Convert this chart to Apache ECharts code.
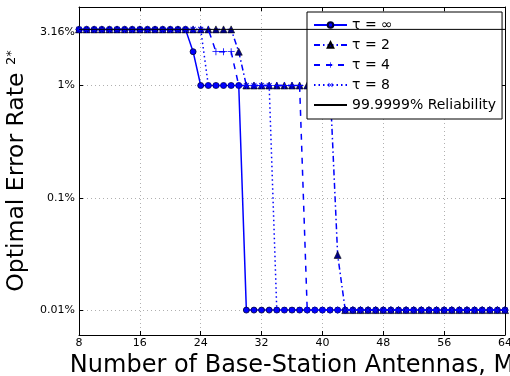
<!DOCTYPE html>
<html>
<head>
<meta charset="utf-8">
<script src="https://cdn.jsdelivr.net/npm/echarts@6/dist/echarts.min.js"></script>
<style>
  html, body { margin: 0; padding: 0; background: #fff; }
  #main { width: 510px; height: 376px; }
</style>
</head>
<body>
<div id="main"></div>
<script>
// number of base-station antennas M
const antennas = [
  8, 9, 10, 11, 12, 13, 14, 15, 16, 17, 18, 19, 20, 21, 22, 23, 24, 25, 26,
  27, 28, 29, 30, 31, 32, 33, 34, 35, 36, 37, 38, 39, 40, 41, 42, 43, 44, 45,
  46, 47, 48, 49, 50, 51, 52, 53, 54, 55, 56, 57, 58, 59, 60, 61, 62, 63, 64
]

// optimal error rate (fraction), one value per antenna count
const tauInf = [
  0.0316, 0.0316, 0.0316, 0.0316, 0.0316, 0.0316, 0.0316, 0.0316, 0.0316, 0.0316, // 8-17
  0.0316, 0.0316, 0.0316, 0.0316, 0.0316, 0.02, 0.01, 0.01, 0.01, 0.01,           // 18-27
  0.01, 0.01, 0.0001, 0.0001, 0.0001, 0.0001, 0.0001, 0.0001, 0.0001, 0.0001,     // 28-37
  0.0001, 0.0001, 0.0001, 0.0001, 0.0001, 0.0001, 0.0001, 0.0001, 0.0001, 0.0001, // 38-47
  0.0001, 0.0001, 0.0001, 0.0001, 0.0001, 0.0001, 0.0001, 0.0001, 0.0001, 0.0001, // 48-57
  0.0001, 0.0001, 0.0001, 0.0001, 0.0001, 0.0001, 0.0001                          // 58-64
]
const tau2 = [
  0.0316, 0.0316, 0.0316, 0.0316, 0.0316, 0.0316, 0.0316, 0.0316, 0.0316, 0.0316,
  0.0316, 0.0316, 0.0316, 0.0316, 0.0316, 0.0316, 0.0316, 0.0316, 0.0316, 0.0316,
  0.0316, 0.02, 0.01, 0.01, 0.01, 0.01, 0.01, 0.01, 0.01, 0.01,
  0.01, 0.01, 0.01, 0.01, 0.00031, 0.0001, 0.0001, 0.0001, 0.0001, 0.0001,
  0.0001, 0.0001, 0.0001, 0.0001, 0.0001, 0.0001, 0.0001, 0.0001, 0.0001, 0.0001,
  0.0001, 0.0001, 0.0001, 0.0001, 0.0001, 0.0001, 0.0001
]
const tau4 = [
  0.0316, 0.0316, 0.0316, 0.0316, 0.0316, 0.0316, 0.0316, 0.0316, 0.0316, 0.0316,
  0.0316, 0.0316, 0.0316, 0.0316, 0.0316, 0.0316, 0.0316, 0.0316, 0.02, 0.02,
  0.02, 0.01, 0.01, 0.01, 0.01, 0.01, 0.01, 0.01, 0.01, 0.01,
  0.0001, 0.0001, 0.0001, 0.0001, 0.0001, 0.0001, 0.0001, 0.0001, 0.0001, 0.0001,
  0.0001, 0.0001, 0.0001, 0.0001, 0.0001, 0.0001, 0.0001, 0.0001, 0.0001, 0.0001,
  0.0001, 0.0001, 0.0001, 0.0001, 0.0001, 0.0001, 0.0001
]
const tau8 = [
  0.0316, 0.0316, 0.0316, 0.0316, 0.0316, 0.0316, 0.0316, 0.0316, 0.0316, 0.0316,
  0.0316, 0.0316, 0.0316, 0.0316, 0.0316, 0.0316, 0.0316, 0.01, 0.01, 0.01,
  0.01, 0.01, 0.01, 0.01, 0.01, 0.01, 0.0001, 0.0001, 0.0001, 0.0001,
  0.0001, 0.0001, 0.0001, 0.0001, 0.0001, 0.0001, 0.0001, 0.0001, 0.0001, 0.0001,
  0.0001, 0.0001, 0.0001, 0.0001, 0.0001, 0.0001, 0.0001, 0.0001, 0.0001, 0.0001,
  0.0001, 0.0001, 0.0001, 0.0001, 0.0001, 0.0001, 0.0001
]
// 99.9999% reliability level
const reliability = 0.0316
const reliabilityX = [8, 64]

const seriesNames = ['τ = ∞', 'τ = 2', 'τ = 4', 'τ = 8', '99.9999% Reliability']

const pairs = vals => antennas.map((m, i) => [m, vals[i]])

var myChart = echarts.init(document.getElementById('main'))

const font = 'DejaVu Sans'
const blue = '#0000ff'
const plus = 'path://M4.4,0 H5.6 V4.4 H10 V5.6 H5.6 V10 H4.4 V5.6 H0 V4.4 H4.4 Z'
const gridLine = { show: true, lineStyle: { color: '#b0b0b0', type: [1, 3], width: 1 } }
const spine = { show: true, lineStyle: { color: '#000', width: 1 } }
const tick = { show: true, inside: true, length: 4, lineStyle: { color: '#000' } }

var option = {
  animation: false,
  backgroundColor: '#fff',
  textStyle: { fontFamily: font },
  grid: { left: 79, right: 5, top: 7, bottom: 41, containLabel: false, outerBoundsMode: 'none' },
  legend: {
    orient: 'vertical',
    left: 307,
    top: 12,
    itemWidth: 33,
    itemHeight: 7,
    itemGap: 6,
    padding: [6, 6, 7, 6],
    backgroundColor: '#fff',
    borderColor: '#000',
    borderWidth: 1,
    borderRadius: 0,
    textStyle: { fontFamily: font, fontSize: 14, color: '#000' },
    data: seriesNames
  },
  xAxis: [
    {
      type: 'value',
      min: 8,
      max: 64,
      interval: 8,
      position: 'bottom',
      name: 'Number of Base-Station Antennas, M',
      nameLocation: 'middle',
      nameGap: 19,
      nameTextStyle: { fontFamily: font, fontSize: 24, color: '#000' },
      axisLine: spine,
      axisTick: tick,
      axisLabel: { margin: 3, fontFamily: font, fontSize: 11, color: '#000' },
      splitLine: gridLine
    },
    {
      type: 'value',
      min: 8,
      max: 64,
      interval: 8,
      position: 'top',
      axisLine: spine,
      axisTick: tick,
      axisLabel: { show: false },
      splitLine: { show: false }
    }
  ],
  yAxis: [
    {
      type: 'log',
      logBase: 10,
      min: 0.00006,
      max: 0.05,
      position: 'left',
      name: 'Optimal Error Rate {s|2*}',
      nameLocation: 'middle',
      nameGap: 44,
      nameTextStyle: {
        fontFamily: font,
        fontSize: 23.5,
        color: '#000',
        rich: { s: { fontFamily: font, fontSize: 13, color: '#000', verticalAlign: 'top', padding: [0, 0, 10, 0] } }
      },
      axisLine: spine,
      axisTick: tick,
      axisLabel: {
        margin: 4,
        fontFamily: font,
        fontSize: 11,
        color: '#000',
        showMinLabel: false,
        showMaxLabel: false,
        formatter: v => Number((v * 100).toPrecision(3)) + '%'
      },
      splitLine: gridLine
    },
    {
      type: 'log',
      logBase: 10,
      min: 0.00006,
      max: 0.05,
      position: 'right',
      axisLine: spine,
      axisTick: tick,
      axisLabel: { show: false },
      splitLine: { show: false }
    }
  ],
  series: [
    {
      name: seriesNames[0],
      type: 'line',
      data: pairs(tauInf),
      symbol: 'circle',
      symbolSize: 6,
      itemStyle: { color: blue, borderColor: '#000033', borderWidth: 0.8 },
      lineStyle: { color: blue, width: 1.5, type: 'solid' },
      z: 2
    },
    {
      name: seriesNames[1],
      type: 'line',
      data: pairs(tau2),
      symbol: 'triangle',
      symbolSize: 7,
      itemStyle: { color: '#00008b', borderColor: '#000', borderWidth: 0.6 },
      lineStyle: { color: blue, width: 1.5, type: [6, 3, 1.5, 3] },
      z: 3
    },
    {
      name: seriesNames[2],
      type: 'line',
      data: pairs(tau4),
      symbol: plus,
      symbolSize: 7,
      itemStyle: { color: blue },
      lineStyle: { color: blue, width: 1.5, type: [6, 6] },
      z: 4
    },
    {
      name: seriesNames[3],
      type: 'line',
      data: pairs(tau8),
      symbol: plus,
      symbolSize: 7,
      symbolRotate: 45,
      itemStyle: { color: blue },
      lineStyle: { color: blue, width: 1.5, type: [1.5, 3] },
      z: 5
    },
    {
      name: seriesNames[4],
      type: 'line',
      data: reliabilityX.map(m => [m, reliability]),
      symbol: 'none',
      showSymbol: false,
      // transparent fill hides the legend's default marker, the line keeps lineStyle
      itemStyle: { color: 'rgba(0,0,0,0)', borderWidth: 0 },
      lineStyle: { color: '#000', width: 1 },
      z: 6,
      markLine: {
        silent: true,
        symbol: 'none',
        lineStyle: { color: 'rgba(0,0,0,0)', width: 0 },
        label: {
          position: 'start',
          distance: 4,
          formatter: '3.16%',
          fontFamily: font,
          fontSize: 11,
          color: '#000'
        },
        data: [{ yAxis: reliability }]
      }
    }
  ]
}

myChart.setOption(option)
</script>
</body>
</html>
